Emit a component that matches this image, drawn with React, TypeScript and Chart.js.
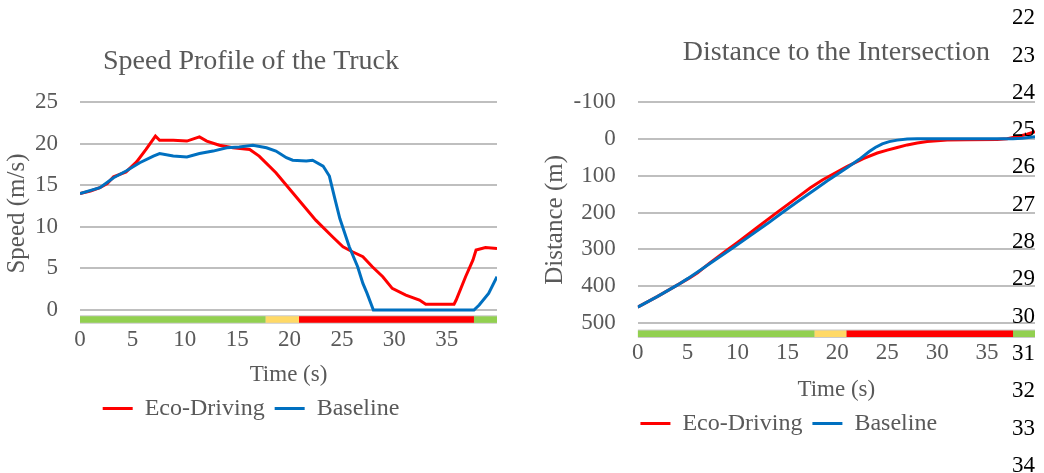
import React, { useEffect, useRef } from "react";
import { Chart, registerables } from "chart.js";

Chart.register(...registerables);

// ---------------- data ----------------
const seriesLabels = ["Eco-Driving", "Baseline"];

const ecoSpeedT = [0, 1.0, 1.9, 2.6, 3.2, 4.4, 5.4, 6.3, 7.2, 7.6, 8.9, 10.2, 11.4, 12.1, 13.3, 14.6, 16.2, 17.1, 18.7, 20.3, 22.5, 24.1, 25.1, 26.0, 27.0, 27.9, 28.9, 29.8, 31.1, 32.4, 33.0, 35.7, 35.9, 36.8, 37.5, 37.8, 38.7, 39.8];
const ecoSpeed = [14.0, 14.3, 14.7, 15.2, 16.0, 16.6, 17.8, 19.3, 20.9, 20.4, 20.4, 20.3, 20.8, 20.3, 19.8, 19.5, 19.3, 18.5, 16.5, 14.1, 10.8, 8.8, 7.6, 7.0, 6.4, 5.2, 4.0, 2.6, 1.8, 1.2, 0.7, 0.7, 1.2, 4.0, 6.0, 7.2, 7.5, 7.4];

const baseSpeedT = [0, 1.9, 3.2, 4.4, 5.7, 7.0, 7.6, 8.9, 10.2, 11.4, 12.7, 14.0, 15.2, 16.5, 17.8, 18.7, 19.7, 20.3, 21.6, 22.2, 23.2, 23.8, 24.3, 24.8, 25.7, 26.5, 27.0, 27.4, 28.0, 37.6, 38.1, 39.0, 39.8];
const baseSpeed = [14.0, 14.7, 15.9, 16.7, 17.7, 18.5, 18.8, 18.5, 18.4, 18.8, 19.1, 19.5, 19.6, 19.8, 19.5, 19.1, 18.3, 18.0, 17.9, 18.0, 17.3, 16.1, 13.5, 11.0, 7.6, 5.2, 3.2, 2.0, 0, 0, 0.6, 2.0, 4.0];

const ecoDistT = [0, 2, 4, 5.2, 6, 7.2, 9.1, 10, 12, 13.9, 16, 17.3, 18.5, 19.5, 21, 22.6, 24, 25, 26, 27, 28, 29, 30, 31, 33, 36, 37, 38, 39, 39.8];
const ecoDist = [456, 427, 396, 377, 363, 337, 299, 281, 240, 201, 159, 133, 112, 97, 75, 54, 39, 31, 24, 17, 12, 8, 6, 4, 3, 2, 0, -5, -12, -19];

const baseDistT = [0, 2, 4, 5, 6, 7.6, 9.4, 11, 13, 14.6, 16, 17.8, 19, 19.5, 21, 22.2, 23.2, 23.8, 24.5, 25.2, 26, 27, 28, 37.6, 38.5, 39.8];
const baseDist = [456, 427, 396, 379, 361, 331, 298, 268, 230, 198, 171, 137, 114, 105, 78, 56, 35, 24, 14, 8, 4, 1, 0, 0, -1, -5];

const phaseBounds = [0, 17.7, 20.9, 37.6, 39.8];
const phaseColors = ["#92D050", "#FFD966", "#FF0000", "#92D050"];

const timeTicks = [0, 5, 10, 15, 20, 25, 30, 35];
const speedTicks = [0, 5, 10, 15, 20, 25];
const distTicks = [-100, 0, 100, 200, 300, 400, 500];

const lineNumbers = [22, 23, 24, 25, 26, 27, 28, 29, 30, 31, 32, 33, 34];

// ---------------- style ----------------
const FONT = "'Liberation Serif', 'Times New Roman', serif";
const TXT = "#595959";
const GRID = "#BFBFBF";

function pts(t: number[], v: number[]) {
  return t.map((x, i) => ({ x, y: v[i] }));
}

function buildConfig(o: any) {
  const datasets: any[] = [
    {
      label: seriesLabels[0],
      data: pts(o.ecoT, o.eco),
      borderColor: "#FF0000",
      backgroundColor: "#FF0000",
      borderWidth: 3,
      pointRadius: 0,
      tension: 0,
      order: 1,
    },
    {
      label: seriesLabels[1],
      data: pts(o.baseT, o.base),
      borderColor: "#0070C0",
      backgroundColor: "#0070C0",
      borderWidth: 3,
      pointRadius: 0,
      tension: 0,
      order: 0,
    },
  ];
  phaseColors.forEach((c, i) => {
    datasets.push({
      label: "phase" + i,
      data: [
        { x: phaseBounds[i], y: o.barY },
        { x: phaseBounds[i + 1], y: o.barY },
      ],
      borderColor: c,
      backgroundColor: c,
      borderWidth: 6.5,
      pointRadius: 0,
      order: 5,
    });
  });
  datasets.push({
    label: "phaseFrame",
    data: [
      { x: phaseBounds[0], y: o.barY },
      { x: phaseBounds[phaseBounds.length - 1], y: o.barY },
    ],
    borderColor: "#CACACA",
    borderWidth: 8.5,
    pointRadius: 0,
    order: 6,
  });

  return {
    type: "line",
    data: { datasets },
    options: {
      animation: false,
      responsive: false,
      maintainAspectRatio: false,
      events: [],
      layout: { padding: o.pad },
      plugins: {
        title: {
          display: true,
          text: o.title,
          color: TXT,
          fullSize: o.titleFull,
          font: { family: FONT, size: 28, weight: "normal", lineHeight: 1.2 },
          padding: { top: 0, bottom: o.titleGap },
        },
        legend: {
          position: "bottom",
          labels: {
            usePointStyle: true,
            pointStyle: "line",
            pointStyleWidth: 30,
            color: TXT,
            font: { family: FONT, size: 24 },
            padding: 10,
            filter: (item: any) => item.datasetIndex < 2,
            sort: (a: any, b: any) => a.datasetIndex - b.datasetIndex,
          },
        },
        tooltip: { enabled: false },
      },
      scales: {
        x: {
          type: "linear",
          min: 0,
          max: 39.8,
          afterBuildTicks: (s: any) => {
            s.ticks = timeTicks.map((v) => ({ value: v }));
          },
          afterFit: (s: any) => {
            s.height = o.xHeight;
          },
          grid: { display: false, drawTicks: false },
          border: { display: false },
          ticks: {
            color: TXT,
            font: { family: FONT, size: 23 },
            padding: 1,
            maxRotation: 0,
            autoSkip: false,
          },
          title: {
            display: true,
            text: "Time (s)",
            color: TXT,
            font: { family: FONT, size: 23, lineHeight: 1 },
            padding: 0,
          },
        },
        y: {
          type: "linear",
          min: o.yMin,
          max: o.yMax,
          reverse: o.reverse,
          afterBuildTicks: (s: any) => {
            s.ticks = o.yTicks.map((v: number) => ({ value: v }));
          },
          afterFit: (s: any) => {
            s.width = o.yWidth;
          },
          grid: { color: GRID, lineWidth: 2, drawTicks: false },
          border: { display: false },
          ticks: {
            color: TXT,
            font: { family: FONT, size: 23 },
            padding: 22,
          },
          title: {
            display: true,
            text: o.yTitle,
            color: TXT,
            font: { family: FONT, size: 25, lineHeight: 1 },
            padding: 0,
          },
        },
      },
    },
  };
}

function ChartCanvas(props: { cfg: any; left: number; width: number; height: number }) {
  const ref = useRef<HTMLCanvasElement | null>(null);
  useEffect(() => {
    if (!ref.current) return;
    const chart = new Chart(ref.current, props.cfg);
    return () => chart.destroy();
  }, []);
  return (
    <canvas
      ref={ref}
      width={props.width}
      height={props.height}
      style={{ position: "absolute", left: props.left, top: 0, width: props.width, height: props.height }}
    />
  );
}

export default function App() {
  const speedCfg = buildConfig({
    title: "Speed Profile of the Truck",
    titleFull: true,
    titleGap: 23.7,
    pad: { left: 5, right: 12, top: 44.7, bottom: 42.5 },
    xHeight: 61.5,
    yWidth: 75,
    yMin: -1.8,
    yMax: 25,
    reverse: false,
    yTicks: speedTicks,
    yTitle: "Speed (m/s)",
    barY: -1.15,
    ecoT: ecoSpeedT,
    eco: ecoSpeed,
    baseT: baseSpeedT,
    base: baseSpeed,
  });
  const distCfg = buildConfig({
    title: "Distance to the Intersection",
    titleFull: false,
    titleGap: 32.7,
    pad: { left: 6.5, right: 9, top: 35.4, bottom: 27.5 },
    xHeight: 63.4,
    yWidth: 95.2,
    yMin: -100,
    yMax: 540,
    reverse: true,
    yTicks: distTicks,
    yTitle: "Distance (m)",
    barY: 528,
    ecoT: ecoDistT,
    eco: ecoDist,
    baseT: baseDistT,
    base: baseDist,
  });

  return (
    <div
      style={{
        position: "fixed",
        left: 0,
        top: 0,
        width: 1044,
        height: 473,
        background: "#ffffff",
        overflow: "hidden",
      }}
    >
      <ChartCanvas cfg={speedCfg} left={0} width={509} height={473} />
      <ChartCanvas cfg={distCfg} left={536} width={508} height={473} />
      {lineNumbers.map((n, i) => (
        <div
          key={n}
          style={{
            position: "absolute",
            right: 9,
            top: 16.7 + i * 37.3 - 11.5,
            fontFamily: FONT,
            fontSize: 23,
            lineHeight: "23px",
            color: "#000000",
            textAlign: "right",
          }}
        >
          {n}
        </div>
      ))}
    </div>
  );
}
